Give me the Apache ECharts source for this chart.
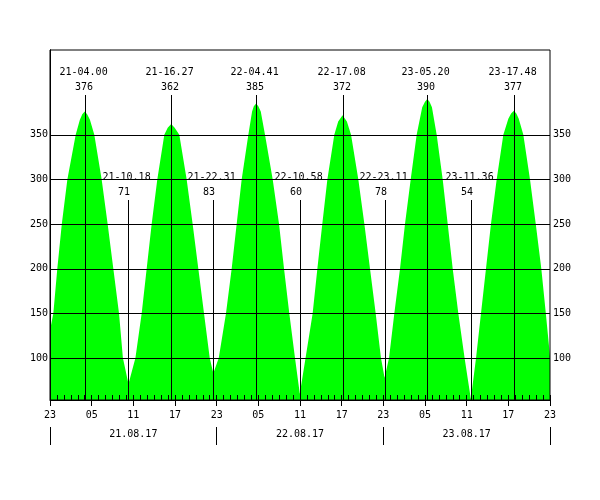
<!DOCTYPE html>
<html><head><meta charset="utf-8">
<script src="https://cdn.jsdelivr.net/npm/echarts@6/dist/echarts.min.js"></script>
<style>html,body{margin:0;padding:0;background:#fff}#c{width:600px;height:500px}</style>
</head><body><div id="c"></div>
<script>
// x = hours since 20.08.17 23:00
const hourTickLabels = ['23','05','11','17','23','05','11','17','23','05','11','17','23'];
const dayLabels = ['21.08.17','22.08.17','23.08.17'];
const yTickValues = [100,150,200,250,300,350];

const curveHours = [
  0,0.48,1.05,1.7,2.5,3.7,4.3,4.65,5.0,
  5.35,5.75,6.38,7.44,8.3,9.12,9.94,10.5,11.3,
  12.3,13.2,13.92,14.64,15.45,16.46,16.95,17.45,
  17.95,18.62,19.68,20.54,21.36,22.18,23.0,23.52,
  24.3,25.34,26.16,26.88,27.6,28.56,29.1,29.35,29.68,
  30.0,30.35,30.96,32.07,32.98,33.7,34.46,35.28,35.97,
  36.8,37.82,38.5,39.21,39.94,40.94,41.5,42.13,
  42.75,43.35,44.4,45.27,46.08,46.9,47.66,48.18,
  48.82,49.58,50.4,51.12,51.94,52.8,53.6,54.0,54.33,
  54.65,55.0,55.68,56.55,57.27,57.99,58.8,59.7,60.6,
  61.35,62.06,62.78,63.5,64.32,65.28,66.0,66.4,66.8,
  67.15,67.5,68.16,69.12,69.95,70.75,71.4,72
];
const curveLevels = [
  131,150,200,250,300,350,367,373,376,
  373,367,350,300,250,200,150,100,71,
  100,150,200,250,300,350,358,362,
  358,350,300,250,200,150,100,83,
  100,150,200,250,300,350,376,382,385,
  382,376,350,300,250,200,150,100,60,
  100,150,200,250,300,350,365,372,
  365,350,300,250,200,150,100,78,
  100,150,200,250,300,350,381,387,390,
  387,381,350,300,250,200,150,100,54,
  100,150,200,250,300,350,368,374,377,
  374,368,350,300,250,200,150,102
];

const extremeTimes  = ['21-04.00','21-10.18','21-16.27','21-22.31','22-04.41','22-10.58','22-17.08','22-23.11','23-05.20','23-11.36','23-17.48'];
const extremeHours  = [5.0, 11.3, 17.45, 23.52, 29.68, 35.97, 42.13, 48.18, 54.33, 60.6, 66.8];
const extremeLevels = [376, 71, 362, 83, 385, 60, 372, 78, 390, 54, 377];
const extremeKinds  = ['high','low','high','low','high','low','high','low','high','low','high'];

const Y_MIN = 53, Y_MAX = 445;
const FONT = '10px "DejaVu Sans Mono"';
const labelStyle = {color:'#000', fontFamily:'DejaVu Sans Mono', fontSize:10};

const chart = echarts.init(document.getElementById('c'), null, {renderer:'canvas'});
chart.setOption({
  animation:false,
  backgroundColor:'#fff',
  grid:{left:50, right:50, top:50, bottom:100, show:true, borderColor:'#000', borderWidth:1, backgroundColor:'transparent', z:10},
  xAxis:[
    {type:'value', min:0, max:72, interval:1, position:'bottom', z:10,
     axisLine:{show:true, lineStyle:{color:'#000', width:1}},
     axisTick:{show:true, inside:true, length:5, lineStyle:{color:'#000'}},
     axisLabel:{show:false}, splitLine:{show:false}},
    {type:'value', min:0, max:72, interval:6, position:'bottom', z:10,
     axisLine:{show:false},
     axisTick:{show:true, inside:false, length:6, lineStyle:{color:'#000'}},
     axisLabel:Object.assign({show:true, margin:10, formatter:v => hourTickLabels[Math.round(v/6)]}, labelStyle),
     splitLine:{show:false}},
    {type:'value', min:0, max:72, position:'bottom', offset:27, z:10,
     axisLine:{show:false},
     axisTick:{show:true, inside:false, length:18, customValues:[0,24,48,72], lineStyle:{color:'#000'}},
     axisLabel:Object.assign({show:true, margin:2, customValues:[12,36,60], formatter:v => dayLabels[Math.round((v-12)/24)]}, labelStyle),
     splitLine:{show:false}}
  ],
  yAxis:[
    {type:'value', min:Y_MIN, max:Y_MAX, position:'left', z:10,
     axisLine:{show:true, lineStyle:{color:'#000'}},
     axisTick:{show:true, length:0, customValues:yTickValues},
     axisLabel:Object.assign({show:true, margin:2, customValues:yTickValues}, labelStyle),
     splitLine:{show:true, lineStyle:{color:'#000', width:1}}},
    {type:'value', min:Y_MIN, max:Y_MAX, position:'right', z:10,
     axisLine:{show:true, lineStyle:{color:'#000'}},
     axisTick:{show:true, length:2, customValues:yTickValues, lineStyle:{color:'#000'}},
     axisLabel:Object.assign({show:true, margin:3, customValues:yTickValues}, labelStyle),
     splitLine:{show:false}}
  ],
  series:[
    {type:'line', xAxisIndex:0, yAxisIndex:0, z:2,
     data:curveHours.map((h,i)=>[h, curveLevels[i]]),
     showSymbol:false, smooth:false,
     lineStyle:{width:0, color:'#00ff00'},
     areaStyle:{color:'#00ff00', opacity:1}},
    {type:'custom', xAxisIndex:0, yAxisIndex:0, z:20,
     data:extremeHours.map((h,i)=>[h, extremeLevels[i]]),
     renderItem:function(params, api){
       const i = params.dataIndex;
       const base = api.coord([api.value(0), Y_MIN]);
       const x = Math.round(base[0]) + 0.5;
       const topY = params.coordSys.y + (extremeKinds[i]==='high' ? 45 : 150);
       return {type:'group', children:[
         {type:'line', shape:{x1:x, y1:topY, x2:x, y2:base[1]}, style:{stroke:'#000', lineWidth:1}},
         {type:'text', x:x-26, y:topY-23, style:{text:extremeTimes[i], font:FONT, fill:'#000', align:'left', verticalAlign:'middle'}},
         {type:'text', x:x-10.5, y:topY-8, style:{text:String(api.value(1)), font:FONT, fill:'#000', align:'left', verticalAlign:'middle'}}
       ]};
     }}
  ]
});
</script></body></html>
